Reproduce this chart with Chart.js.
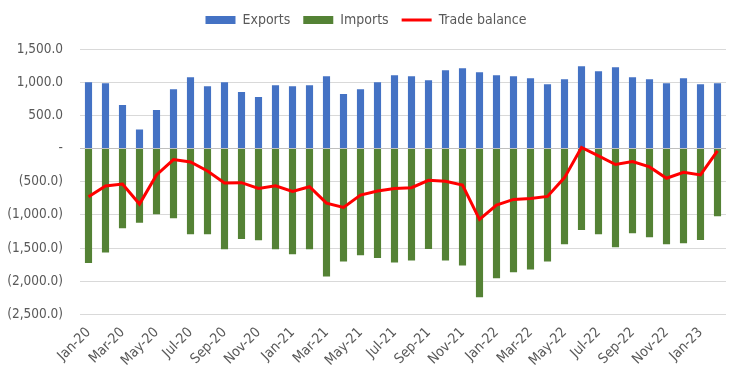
<!DOCTYPE html>
<html>
<head>
<meta charset="utf-8">
<script src="https://cdn.jsdelivr.net/npm/chart.js@4.4.1/dist/chart.umd.min.js"></script>
<style>
  html, body { margin: 0; padding: 0; background: #fff; }
  #wrap { width: 733px; height: 378px; position: relative; }
</style>
</head>
<body>
<div id="wrap"><canvas id="c"></canvas></div>
<script>
const months = ['Jan-20','Feb-20','Mar-20','Apr-20','May-20','Jun-20','Jul-20','Aug-20','Sep-20','Oct-20','Nov-20','Dec-20',
  'Jan-21','Feb-21','Mar-21','Apr-21','May-21','Jun-21','Jul-21','Aug-21','Sep-21','Oct-21','Nov-21','Dec-21',
  'Jan-22','Feb-22','Mar-22','Apr-22','May-22','Jun-22','Jul-22','Aug-22','Sep-22','Oct-22','Nov-22','Dec-22',
  'Jan-23','Feb-23'];
const exportsVals = [1000, 985, 655, 285, 580, 895, 1075, 940, 1000, 850, 775, 955,
  940, 955, 1090, 820, 895, 1000, 1105, 1090, 1030, 1180, 1210, 1150,
  1105, 1090, 1060, 970, 1045, 1240, 1165, 1225, 1075, 1045, 985, 1060,
  970, 985];
const importsVals = [-1727, -1566, -1202, -1121, -990, -1050, -1293, -1293, -1520, -1364, -1384, -1520,
  -1596, -1520, -1929, -1702, -1611, -1651, -1717, -1687, -1515, -1687, -1763, -2242,
  -1955, -1864, -1823, -1702, -1444, -1227, -1293, -1490, -1278, -1338, -1444, -1429,
  -1379, -1020];
const balanceVals = [-727, -566, -535, -838, -399, -167, -202, -338, -520, -515, -601, -561,
  -646, -576, -823, -889, -702, -641, -603, -591, -480, -495, -550, -1070,
  -853, -768, -752, -722, -439, 15, -111, -242, -197, -278, -449, -358,
  -399, -35];
const yTicks = { min: -2500, max: 1500, step: 500 };

const FONT = '"Liberation Sans Narrow", "DejaVu Sans Condensed", "Liberation Sans", sans-serif';
const GREY = '#595959';

function fmt(v) {
  if (v === 0) return '-';
  const s = Math.abs(v).toLocaleString('en-US', { minimumFractionDigits: 1, maximumFractionDigits: 1 });
  return v < 0 ? '(' + s + ')' : s;
}

const legendSpacing = {
  id: 'legendSpacing',
  beforeInit(chart) {
    const orig = chart.legend.fit;
    chart.legend.fit = function () {
      orig.call(this);
      this.height = 49;
    };
  }
};

new Chart(document.getElementById('c'), {
  plugins: [legendSpacing],
  data: {
    labels: months,
    datasets: [
      { type: 'line', label: 'Trade balance', data: balanceVals, borderColor: '#FF0000', backgroundColor: '#FF0000',
        borderWidth: 3, pointRadius: 0, pointStyle: 'line', tension: 0, order: 0 },
      { type: 'bar', label: 'Exports', data: exportsVals, backgroundColor: '#4472C4', borderWidth: 0,
        pointStyle: 'rect', categoryPercentage: 1, barPercentage: 0.42, order: 1 },
      { type: 'bar', label: 'Imports', data: importsVals, backgroundColor: '#548235', borderWidth: 0,
        pointStyle: 'rect', categoryPercentage: 1, barPercentage: 0.42, order: 1 }
    ]
  },
  options: {
    responsive: true,
    maintainAspectRatio: false,
    animation: false,
    layout: { autoPadding: false, padding: { left: 6, right: 7, top: 0, bottom: 7 } },
    plugins: {
      tooltip: { enabled: false },
      legend: {
        position: 'top',
        labels: {
          color: GREY,
          font: { family: FONT, size: 14 },
          usePointStyle: true,
          pointStyleWidth: 30,
          boxWidth: 30,
          boxHeight: 8,
          padding: 13,
          sort: (a, b) => {
            const order = ['Exports', 'Imports', 'Trade balance'];
            return order.indexOf(a.text) - order.indexOf(b.text);
          }
        }
      }
    },
    scales: {
      x: {
        stacked: true,
        grid: { display: false },
        border: { display: false },
        afterFit: (scale) => { scale.paddingLeft = 0; scale.paddingRight = 0; },
        ticks: {
          color: GREY,
          font: { family: FONT, size: 14 },
          autoSkip: false,
          maxRotation: 45,
          minRotation: 45,
          padding: 2,
          callback: function (val, idx) { return idx % 2 === 0 ? this.getLabelForValue(val) : ''; }
        }
      },
      y: {
        min: yTicks.min,
        max: yTicks.max,
        afterFit: (scale) => { scale.width = 74; },
        grid: {
          color: (ctx) => ctx.tick && ctx.tick.value === 0 ? '#bfbfbf' : '#d9d9d9',
          lineWidth: 1,
          drawTicks: false
        },
        border: { display: false },
        ticks: {
          stepSize: yTicks.step,
          color: GREY,
          font: { family: FONT, size: 13.5 },
          padding: 17,
          callback: (v) => fmt(v)
        }
      }
    }
  }
});
</script>
</body>
</html>
